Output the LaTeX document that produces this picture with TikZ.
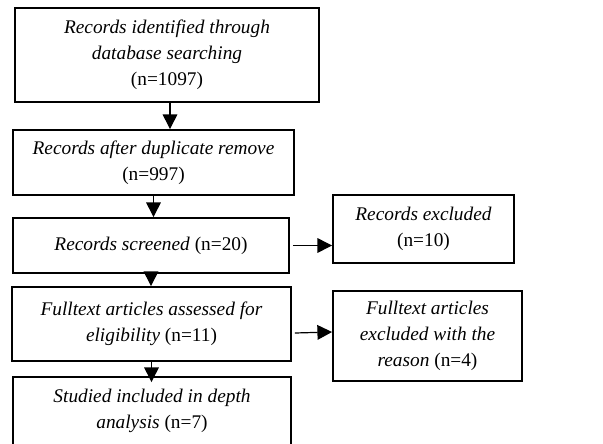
\documentclass[tikz,border=0pt]{standalone}
\usepackage{fontspec}
\setmainfont{Liberation Serif}
\usetikzlibrary{
    arrows.meta,
    calc,
    positioning
}

\begin{document}
\begin{tikzpicture}[x=0.75pt, y=-0.75pt,
    box/.style={draw, line width=1.4pt, align=center, inner sep=0pt,
        font=\fontsize{14.5}{19.5}\selectfont},
    arr/.style={-{Triangle[length=11pt, width=11pt]}, line width=0.9pt}]
\useasboundingbox (0,0) rectangle (603,443);
\clip (0,0) rectangle (603,443);
\node[box, minimum width=228pt, minimum height=70.5pt] (id) at (167, 55)
    {\textit{Records identified through}\\\textit{database searching}\\(n=1097)};
\node[box, minimum width=210.75pt, minimum height=48.75pt] (dup) at (153.5, 162.5)
    {\textit{Records after duplicate remove}\\(n=997)};
\node[box, minimum width=207pt, minimum height=41.25pt] (scr) at (151, 245.5)
    {\textit{Records screened} (n=20)};
\node[box, minimum width=135.75pt, minimum height=51pt] (exc) at (423.5, 229)
    {\textit{Records excluded}\\(n=10)};
\node[box, minimum width=209.25pt, minimum height=55.5pt] (full) at (151.5, 324)
    {\textit{Fulltext articles assessed for}\\\textit{eligibility} (n=11)};
\node[box, minimum width=141.75pt, minimum height=67.5pt] (rea) at (427.5, 336)
    {\textit{Fulltext articles}\\\textit{excluded with the}\\\textit{reason} (n=4)};
\node[box, minimum width=208.5pt, minimum height=51pt] (inc) at (152, 411)
    {\textit{Studied included in depth}\\\textit{analysis} (n=7)};
\draw[arr] ($(id.south)+(3,0)$) -- ($(id.south |- dup.north)+(3,0)$);
\draw[arr] (dup.south) -- (dup.south |- scr.north);
\draw[arr] (scr.south) -- (scr.south |- full.north);
\draw[arr] (full.south) -- ($(full.south |- inc.north)+(0,6)$);
\draw[arr] ($(scr.east)+(3,0)$) -- (scr.east -| exc.west);
\draw[arr] ($(full.east)+(3,9)$) -- ($(rea.west)+(0,-4)$);
\end{tikzpicture}
\end{document}
